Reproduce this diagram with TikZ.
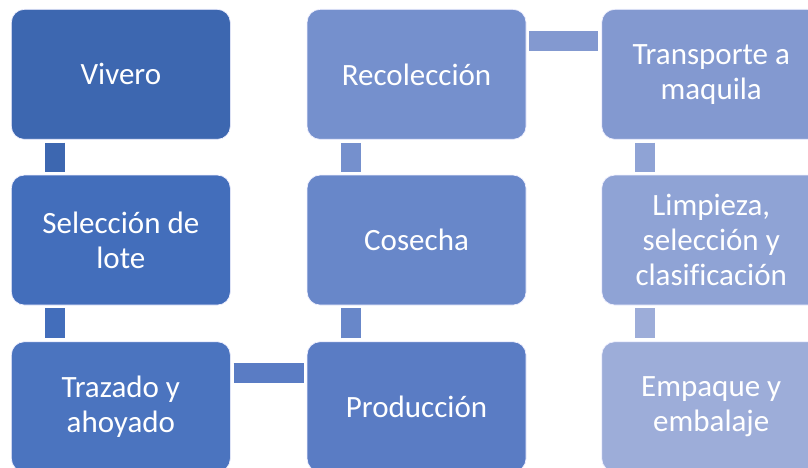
\documentclass[tikz,border=0pt]{standalone}
\usepackage{fontspec}
\setmainfont{Carlito}[Ligatures=NoCommon]
\usepackage{tikz}
\usetikzlibrary{positioning,calc}
\definecolor{stepA}{HTML}{3D67B0}
\definecolor{stepB}{HTML}{436EBB}
\definecolor{stepC}{HTML}{4B74BF}
\definecolor{stepD}{HTML}{5A7CC4}
\definecolor{stepE}{HTML}{6887C9}
\definecolor{stepF}{HTML}{7590CD}
\definecolor{stepG}{HTML}{8399D0}
\definecolor{stepH}{HTML}{8FA3D5}
\definecolor{stepI}{HTML}{9DADD9}
\tikzset{
  stage/.style={rectangle,rounded corners=13pt,draw=white!70!blue!20,line width=0.7pt,
    minimum width=219pt,minimum height=130pt,inner sep=2pt,align=center,
    text=white,font=\fontsize{31}{35}\selectfont},
  link/.style={line width=20pt}
}

\begin{document}
\begin{tikzpicture}[x=1pt,y=-1pt]
  \useasboundingbox (0,0) rectangle (808,468);
  \node[stage, fill=stepA, anchor=north west] (vivero) at (11,9) {Vivero};
  \node[stage, fill=stepB, below=35pt of vivero] (seleccion) {Selección de\\lote};
  \node[stage, fill=stepC, below=36pt of seleccion] (trazado) {Trazado y\\ahoyado};
  \node[stage, fill=stepD, right=76pt of trazado] (produccion) {Producción};
  \node[stage, fill=stepE, above=36pt of produccion] (cosecha) {Cosecha};
  \node[stage, fill=stepF, above=35pt of cosecha] (recoleccion) {Recolección};
  \node[stage, fill=stepG, right=75pt of recoleccion] (transporte) {Transporte a\\maquila};
  \node[stage, fill=stepH, below=35pt of transporte] (limpieza) {Limpieza,\\selección y\\clasificación};
  \node[stage, fill=stepI, below=36pt of limpieza] (empaque) {Empaque y\\embalaje};
  % connecting bars
  \draw[link, stepA] ($(vivero.south west)+(44,3)$) -- ($(seleccion.north west)+(44,-3)$);
  \draw[link, stepB] ($(seleccion.south west)+(44,3)$) -- ($(trazado.north west)+(44,-3)$);
  \draw[link, stepD] ($(trazado.north east)+(3,32)$) -- ($(produccion.north west)+(-3,32)$);
  \draw[link, stepE] ($(produccion.north west)+(44,-3)$) -- ($(cosecha.south west)+(44,3)$);
  \draw[link, stepF] ($(cosecha.north west)+(44,-3)$) -- ($(recoleccion.south west)+(44,3)$);
  \draw[link, stepG] ($(recoleccion.north east)+(3,32)$) -- ($(transporte.north west)+(-3,32)$);
  \draw[link, stepH] ($(transporte.south west)+(44,3)$) -- ($(limpieza.north west)+(44,-3)$);
  \draw[link, stepI] ($(limpieza.south west)+(44,3)$) -- ($(empaque.north west)+(44,-3)$);
\end{tikzpicture}
\end{document}
